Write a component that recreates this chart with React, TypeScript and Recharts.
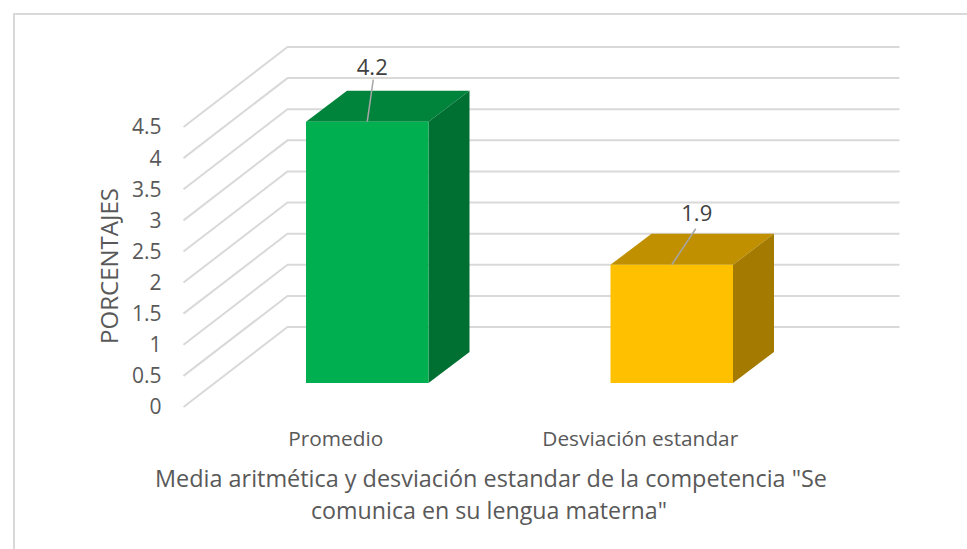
import React from "react";
import { BarChart, Bar, XAxis, YAxis, CartesianGrid, LabelList } from "recharts";

const categories = ["Promedio", "Desviación estandar"];
const values = [4.2, 1.9];
const yTicks = [0, 0.5, 1, 1.5, 2, 2.5, 3, 3.5, 4, 4.5];
const yAxisTitle = "PORCENTAJES";
const titleLines = ['Media aritmética y desviación estandar de la competencia "Se', 'comunica en su lengua materna"'];

const frontColors = ["#00B050", "#FFC000"];
const topColors = ["#00843C", "#C09000"];
const sideColors = ["#006F32", "#A47B00"];

const data = categories.map((name, i) => ({ name, value: values[i] }));

const FONT = "'Open Sans', sans-serif";
const TEXT = "#595959";
const GRID = "#D9D9D9";
// floor depth of the 3D box, and where the bars stand on it
const WALL_DX = 104, WALL_DY = 80, WALL_RIGHT_DX = 107;
const BAR_DX = 31.5, BAR_DY = 24;
const BOX_DX = 41, BOX_DY = 31;
const labelOffsets = [{ x: 6, y: -42, tx: 5, ty: -56 }, { x: 24, y: -36, tx: 25, ty: -53 }];

const GridLine = (p: any) => (
  <polyline
    fill="none"
    stroke={GRID}
    strokeWidth={2}
    points={`${p.x1},${p.y1} ${p.x1 + WALL_DX},${p.y1 - WALL_DY} ${p.x2 + WALL_RIGHT_DX},${p.y2 - WALL_DY}`}
  />
);

const Box = (p: any) => {
  const { x, y, width, height, index } = p;
  const l = x + BAR_DX, t = y - BAR_DY, r = l + width, b = t + height;
  return (
    <g>
      <polygon fill={topColors[index]} points={`${l},${t} ${l + BOX_DX},${t - BOX_DY} ${r + BOX_DX},${t - BOX_DY} ${r},${t}`} />
      <polygon fill={sideColors[index]} points={`${r},${t} ${r + BOX_DX},${t - BOX_DY} ${r + BOX_DX},${b - BOX_DY} ${r},${b}`} />
      <rect x={l} y={t} width={width} height={height} fill={frontColors[index]} />
    </g>
  );
};

const ValueLabel = (p: any) => {
  const { x, y, width, value, index } = p;
  const cx = x + width / 2 + BAR_DX, top = y - BAR_DY;
  const o = labelOffsets[index];
  return (
    <g>
      <line x1={cx} y1={top} x2={cx + o.x} y2={top + o.y} stroke="#A6A6A6" strokeWidth={1.5} />
      <text x={cx + o.tx} y={top + o.ty} textAnchor="middle" dominantBaseline="central" fontFamily={FONT} fontSize={22} fill="#404040">
        {value}
      </text>
    </g>
  );
};

export default function App() {
  return (
    <div style={{ position: "absolute", left: 0, top: 0, width: 967, height: 549, background: "#fff", overflow: "hidden" }}>
      <div style={{ position: "absolute", left: 13, top: 13, right: 0, bottom: 0, borderLeft: `2px solid ${GRID}`, borderTop: `2px solid ${GRID}` }} />
      <div style={{ position: "absolute", left: 0, top: 0 }}>
        <BarChart
          width={967}
          height={549}
          data={data}
          margin={{ top: 127, right: 174.5, bottom: 0, left: 0 }}
          style={{ fontFamily: FONT }}
        >
          <CartesianGrid vertical={false} horizontal={GridLine as any} />
          <XAxis
            dataKey="name"
            height={142}
            axisLine={false}
            tickLine={false}
            tickSize={0}
            tickMargin={24}
            interval={0}
            tick={{ fontSize: 20.8, fill: TEXT, fontFamily: FONT }}
          />
          <YAxis
            width={183.5}
            domain={[0, 4.5]}
            ticks={yTicks}
            axisLine={false}
            tickLine={false}
            tickSize={0}
            tickMargin={22}
            interval={0}
            tick={{ fontSize: 21, fill: TEXT, fontFamily: FONT }}
          />
          <Bar dataKey="value" barSize={122.5} shape={Box as any} isAnimationActive={false}>
            <LabelList dataKey="value" content={ValueLabel as any} />
          </Bar>
          <text x={108} y={266} transform="rotate(-90 108 266)" textAnchor="middle" dominantBaseline="central" fontFamily={FONT} fontSize={24} fill={TEXT}>
            {yAxisTitle}
          </text>
          <text x={491} y={477} textAnchor="middle" dominantBaseline="central" fontFamily={FONT} fontSize={24} fill={TEXT} textLength={672} lengthAdjust="spacingAndGlyphs">
            {titleLines[0]}
          </text>
          <text x={489} y={509} textAnchor="middle" dominantBaseline="central" fontFamily={FONT} fontSize={24} fill={TEXT} textLength={356} lengthAdjust="spacingAndGlyphs">
            {titleLines[1]}
          </text>
        </BarChart>
      </div>
    </div>
  );
}
